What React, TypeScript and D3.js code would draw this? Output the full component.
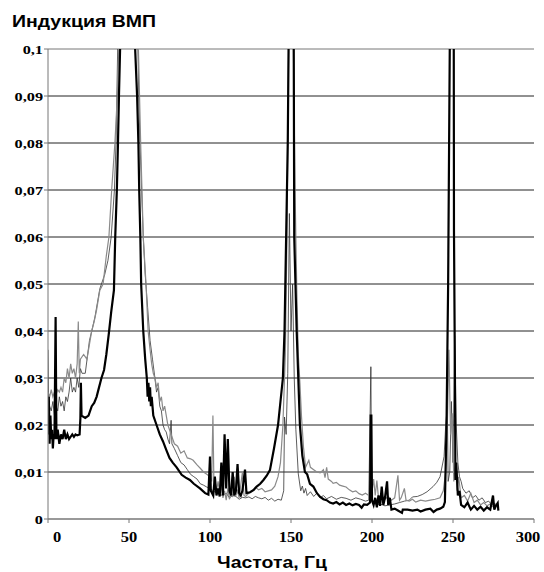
import React from "react";
import * as d3 from "d3";

// frequency (Hz) / induction pairs
const seriesBlack: [number, number][] = [
  [0, 0.018], [0.5, 0.026], [1, 0.016], [1.5, 0.022], [2, 0.017], [2.5, 0.019], [3, 0.015], [3.5, 0.018],
  [4, 0.017], [4.7, 0.043], [5.2, 0.017], [6, 0.019], [7, 0.016], [8, 0.018], [9, 0.017], [10, 0.019],
  [11, 0.017], [12, 0.018], [13, 0.017], [14, 0.0175], [15, 0.018], [16, 0.0175], [17, 0.018], [18, 0.0178],
  [19.5, 0.018], [20, 0.0215], [20.3, 0.029], [20.7, 0.022], [23, 0.0215], [25, 0.022], [27, 0.024],
  [28.5, 0.0247], [30, 0.026], [31.5, 0.028], [33, 0.03], [34.6, 0.0317], [36, 0.035], [37.6, 0.0396],
  [39, 0.044], [40.7, 0.0487], [41.5, 0.06], [42.5, 0.07], [43.2, 0.08], [43.8, 0.09], [44.5, 0.1],
  [46, 0.15], [50, 0.25], [53, 0.15], [53.8, 0.1], [55, 0.09], [55.8, 0.08], [56.3, 0.07], [57, 0.06],
  [57.5, 0.05], [58.8, 0.04], [60, 0.034], [61, 0.03], [61.5, 0.026], [62, 0.029], [62.5, 0.025],
  [63, 0.028], [63.5, 0.024], [64, 0.026], [65, 0.022], [67, 0.02], [69, 0.018], [71, 0.0165],
  [73, 0.0147], [75, 0.013], [77, 0.012], [79.4, 0.011], [82.5, 0.0094], [85, 0.0088], [87.6, 0.0083],
  [90, 0.0075], [93.8, 0.0065], [97, 0.0055], [99, 0.0052], [100, 0.0133], [100.5, 0.006], [102, 0.005],
  [103, 0.009], [104, 0.005], [105, 0.0065], [106, 0.0048], [107, 0.012], [108, 0.005], [109, 0.018],
  [110, 0.0065], [111, 0.017], [112, 0.006], [113, 0.005], [114, 0.01], [115, 0.005], [116, 0.006],
  [117, 0.0117], [118, 0.0055], [119, 0.005], [120, 0.006], [121.6, 0.0105], [122.5, 0.0055],
  [124.7, 0.0057], [127, 0.0062], [128.8, 0.0069], [131, 0.0075], [133, 0.0083], [135, 0.0092],
  [137, 0.0104], [139.5, 0.015], [142, 0.02], [143.5, 0.025], [145, 0.03], [146, 0.04], [147, 0.06],
  [148, 0.08], [148.5, 0.1], [150, 0.4], [151.7, 0.1], [152, 0.06], [153.5, 0.04], [154.5, 0.03],
  [155.5, 0.02], [157, 0.0135], [158.6, 0.01], [160, 0.0095], [161.7, 0.0075], [163.8, 0.0069],
  [166, 0.0055], [168, 0.0047], [170, 0.0042], [172, 0.004], [174, 0.0035], [176, 0.0033], [178, 0.0036],
  [180, 0.0031], [182, 0.0035], [184, 0.003], [186, 0.0033], [188, 0.0029], [190, 0.0032], [192, 0.003],
  [193.6, 0.0024], [195, 0.0031], [197, 0.003], [198.8, 0.0035], [199.2, 0.022], [199.6, 0.022],
  [200, 0.004], [201, 0.003], [202, 0.0045], [203, 0.0025], [204, 0.005], [205, 0.0028], [206, 0.0069],
  [207, 0.003], [208, 0.0045], [209.3, 0.008], [210, 0.003], [211, 0.0045], [212, 0.002], [214, 0.0022],
  [216, 0.0018], [218.5, 0.0013], [219, 0.002], [222, 0.002], [225, 0.0018], [228, 0.002], [230, 0.0016],
  [233, 0.002], [236, 0.0022], [238, 0.0015], [240, 0.002], [242, 0.0022], [244, 0.0026], [245, 0.0036],
  [246, 0.02], [247, 0.05], [248, 0.1], [249.5, 0.4], [250.6, 0.0615], [251.2, 0.03], [251.5, 0.0083],
  [252, 0.012], [253, 0.005], [254, 0.006], [255, 0.003], [257, 0.0025], [259, 0.0035], [261, 0.002],
  [263, 0.0028], [265, 0.002], [267, 0.0026], [269, 0.0018], [271, 0.0025], [273, 0.002], [274.7, 0.005],
  [275.5, 0.002], [276.5, 0.0028], [277.6, 0.0034], [278, 0.0018],
];

const seriesGray: [number, number][] = [
  [0, 0.027], [1, 0.026], [2, 0.0275], [3, 0.026], [4, 0.027], [5, 0.0265], [6, 0.0275], [7, 0.027],
  [8, 0.028], [9, 0.027], [10, 0.03], [11, 0.029], [12, 0.032], [13, 0.03], [14, 0.033], [15, 0.031],
  [16, 0.032], [17, 0.03], [18, 0.033], [18.7, 0.042], [19.3, 0.031], [20, 0.034], [22, 0.035],
  [24, 0.034], [25.5, 0.037], [27, 0.04], [28.5, 0.042], [30, 0.0445], [32, 0.0487], [34, 0.05],
  [36, 0.056], [37.6, 0.06], [39.3, 0.07], [41.3, 0.08], [42.8, 0.09], [43.6, 0.1], [45, 0.16],
  [50, 0.3], [55, 0.15], [55.8, 0.1], [56.5, 0.09], [57.2, 0.08], [58, 0.07], [58.8, 0.06], [60.5, 0.05],
  [61.8, 0.04], [63, 0.036], [64, 0.033], [65, 0.031], [66, 0.03], [67, 0.028], [68, 0.029], [69, 0.025],
  [70, 0.026], [71, 0.023], [72, 0.024], [74, 0.02], [76, 0.018], [78, 0.016], [80, 0.0155], [82, 0.014],
  [84, 0.0145], [86, 0.013], [88, 0.0128], [89.6, 0.0125], [92, 0.0115], [94, 0.0108], [96, 0.01],
  [98, 0.0095], [100, 0.009], [101, 0.008], [101.8, 0.022], [102.4, 0.008], [103, 0.007], [104, 0.006],
  [105, 0.008], [106, 0.0055], [107, 0.007], [108, 0.0045], [109, 0.006], [110, 0.004], [111, 0.0065],
  [112, 0.0042], [113, 0.0055], [114, 0.0047], [115, 0.009], [116, 0.005], [117, 0.006], [118, 0.0045],
  [120, 0.01], [121, 0.005], [122, 0.0048], [124, 0.0055], [126, 0.006], [128, 0.0068], [130, 0.0062],
  [132, 0.0065], [134, 0.0058], [136, 0.006], [138, 0.0062], [140, 0.007], [142, 0.009], [143.5, 0.012],
  [145, 0.02], [146.5, 0.035], [147.5, 0.06], [148.5, 0.1], [150, 0.3], [151.5, 0.1], [152.5, 0.07],
  [153.5, 0.05], [154.5, 0.035], [155.5, 0.029], [156.5, 0.0217], [157.7, 0.0153], [159, 0.011],
  [161, 0.0125], [162, 0.011], [164, 0.0105], [166, 0.01], [168, 0.0098], [170, 0.0105], [171, 0.0088],
  [172, 0.011], [173, 0.0085], [175, 0.008], [176, 0.0076], [178, 0.0078], [180, 0.0072], [182, 0.007],
  [184, 0.0068], [186, 0.0062], [188, 0.0058], [190, 0.006], [192, 0.0054], [194, 0.0051], [196, 0.0055],
  [198, 0.005], [200, 0.0058], [201, 0.0085], [202, 0.005], [203, 0.0082], [204, 0.0045], [206, 0.005],
  [208, 0.0042], [210, 0.0048], [212, 0.004], [214, 0.0045], [216, 0.0093], [217, 0.004], [218, 0.0045],
  [220, 0.0065], [221, 0.004], [223, 0.0038], [225, 0.0042], [227, 0.0036], [230, 0.004], [233, 0.0038],
  [236, 0.004], [239, 0.0042], [242, 0.0045], [244, 0.006], [245.5, 0.01], [246.5, 0.02], [247.5, 0.036],
  [248.5, 0.018], [249.5, 0.0225], [250.5, 0.008], [251.5, 0.012], [252.5, 0.006], [253.5, 0.009],
  [255, 0.0045], [257, 0.005], [259, 0.0038], [261, 0.0055], [263, 0.0035], [265, 0.004], [267, 0.003],
  [269, 0.0035], [271, 0.0028], [273, 0.0032], [275, 0.0025], [277, 0.003],
];

const seriesThin: [number, number][] = [
  [0, 0.036], [0.5, 0.02], [1, 0.024], [2, 0.023], [3, 0.025], [4, 0.022], [5, 0.024], [6, 0.023],
  [7, 0.026], [8, 0.024], [9, 0.025], [10, 0.023], [11, 0.026], [12, 0.025], [13, 0.027], [14, 0.03],
  [15, 0.027], [16, 0.028], [17, 0.027], [18, 0.03], [19, 0.028], [20, 0.032], [21, 0.031], [23, 0.031],
  [25.6, 0.038], [27, 0.04], [29, 0.043], [32, 0.049], [35, 0.052], [37, 0.055], [39, 0.06], [41, 0.07],
  [42, 0.08], [43, 0.1], [46, 0.2], [52, 0.2], [55.5, 0.1], [56, 0.09], [56.8, 0.08], [57.8, 0.07],
  [58.8, 0.06], [60, 0.052], [61.5, 0.045], [63, 0.038], [64.5, 0.034], [66, 0.03], [67, 0.027],
  [68, 0.028], [69, 0.024], [70, 0.023], [71, 0.02], [72, 0.019], [73, 0.0185], [74, 0.017], [75, 0.016],
  [76, 0.021], [76.5, 0.016], [78, 0.015], [80, 0.0135], [82, 0.012], [84, 0.0115], [86, 0.0105],
  [88, 0.0095], [90, 0.009], [92, 0.0085], [94, 0.0075], [96, 0.0072], [98, 0.0068], [100, 0.0065],
  [102, 0.006], [104, 0.0055], [106, 0.0052], [108, 0.005], [110, 0.0055], [112, 0.0045], [114, 0.005],
  [116, 0.0048], [118, 0.0042], [120, 0.0046], [122, 0.0045], [124, 0.0047], [126, 0.0043], [128, 0.0048],
  [130, 0.0045], [132, 0.0043], [134, 0.0046], [136, 0.004], [138, 0.0044], [140, 0.0038], [142, 0.0042],
  [144, 0.004], [145.5, 0.006], [146, 0.0217], [147, 0.018], [148, 0.031], [149, 0.065], [150, 0.04],
  [151, 0.05], [152, 0.03], [153, 0.019], [154.5, 0.0096], [156, 0.006], [157, 0.007], [158, 0.0055],
  [159, 0.0065], [160, 0.005], [162, 0.0058], [164, 0.0048], [166, 0.0055], [168, 0.0045], [170, 0.005],
  [172, 0.0043], [175, 0.0048], [178, 0.0042], [181, 0.0046], [184, 0.0044], [187, 0.004], [190, 0.0045],
  [193, 0.0042], [196, 0.0038], [198, 0.004], [199.3, 0.0324], [199.8, 0.004], [201, 0.0035], [203, 0.003],
  [205, 0.0032], [208, 0.0028], [211, 0.003], [214, 0.0032], [217, 0.0035], [220, 0.0038], [223, 0.004],
  [225, 0.0047], [228, 0.0048], [231, 0.0052], [234, 0.0058], [237.7, 0.0069], [240, 0.0078], [242, 0.009],
  [244.5, 0.0133], [245.5, 0.02], [246.5, 0.024], [247, 0.008], [248, 0.01], [249, 0.025], [250, 0.012],
  [251, 0.039], [252, 0.02], [253, 0.012], [254, 0.009], [255, 0.008], [256, 0.0065], [258, 0.0055],
  [260, 0.006], [262, 0.0045], [264, 0.005], [266, 0.004], [268, 0.0045], [270, 0.0035], [272, 0.0038],
  [274, 0.003], [276, 0.0033], [277, 0.0028],
];

const yTicks = [0, 0.01, 0.02, 0.03, 0.04, 0.05, 0.06, 0.07, 0.08, 0.09, 0.1];
const xTicks = [0, 50, 100, 150, 200, 250, 300];
const title = "Индукция ВМП";
const xTitle = "Частота, Гц";

const width = 544;
const height = 572;
const margin = { top: 49, right: 10, bottom: 53, left: 48 };

const serif = '"Liberation Serif", "Times New Roman", "DejaVu Serif", serif';
const sans = '"Liberation Sans", Arial, "DejaVu Sans", sans-serif';

export default function App() {
  const innerW = width - margin.left - margin.right;
  const innerH = height - margin.top - margin.bottom;

  const x = d3.scaleLinear().domain([0, 300]).range([margin.left, margin.left + innerW]);
  const y = d3.scaleLinear().domain([0, 0.1]).range([margin.top + innerH, margin.top]);

  const line = d3.line<[number, number]>()
    .x(d => x(d[0]))
    .y(d => y(d[1]));

  const yFmt = (v: number) => (v === 0 ? "0" : String(+v.toFixed(2)).replace(".", ","));
  // first and last labels are nudged inside, as in the original
  const xLabelPos = (t: number) => (t === 0 ? x(t) + 9 : t === 300 ? x(t) - 6 : x(t));

  return (
    <svg width={width} height={height} style={{ position: "absolute", left: 0, top: 0, background: "#fff" }}>
      <defs>
        <clipPath id="plot-clip">
          <rect x={margin.left} y={margin.top} width={innerW} height={innerH} />
        </clipPath>
      </defs>

      <text x={12} y={27} style={{ fontFamily: sans, fontWeight: "bold", fontSize: 17 }}
        textLength={144} lengthAdjust="spacingAndGlyphs">{title}</text>

      {yTicks.map(t => (
        <g key={"y" + t}>
          {t > 0 && (
            <line x1={margin.left} x2={margin.left + innerW} y1={y(t)} y2={y(t)}
              stroke={t === 0.1 ? "#777" : "#222"} strokeWidth={1} />
          )}
          <line x1={margin.left - 4} x2={margin.left} y1={y(t)} y2={y(t)} stroke="#777" />
          <g transform={`translate(${margin.left - 5},${y(t)}) scale(1.25,1)`}>
            <text dy="0.35em" textAnchor="end"
              style={{ fontFamily: serif, fontWeight: "bold", fontSize: 13 }}>{yFmt(t)}</text>
          </g>
        </g>
      ))}

      <g clipPath="url(#plot-clip)" fill="none">
        <path d={line(seriesThin) || ""} stroke="#333" strokeWidth={0.8} />
        <path d={line(seriesGray) || ""} stroke="#8a8a8a" strokeWidth={1.2} />
        <path d={line(seriesBlack) || ""} stroke="#000" strokeWidth={2.2} />
      </g>

      <line x1={margin.left} x2={margin.left} y1={margin.top} y2={margin.top + innerH} stroke="#777" />
      <line x1={margin.left} x2={margin.left + innerW} y1={margin.top + innerH} y2={margin.top + innerH}
        stroke="#777" strokeWidth={1.5} />

      {xTicks.map(t => (
        <g key={"x" + t}>
          <line x1={x(t)} x2={x(t)} y1={margin.top + innerH} y2={margin.top + innerH + 4} stroke="#777" />
          <g transform={`translate(${xLabelPos(t)},${margin.top + innerH + 23}) scale(1.1,1)`}>
            <text textAnchor="middle"
              style={{ fontFamily: serif, fontWeight: "bold", fontSize: 15 }}>{t}</text>
          </g>
        </g>
      ))}

      <text x={272} y={568} textAnchor="middle" style={{ fontFamily: sans, fontWeight: "bold", fontSize: 17 }}
        textLength={110} lengthAdjust="spacingAndGlyphs">{xTitle}</text>
    </svg>
  );
}
